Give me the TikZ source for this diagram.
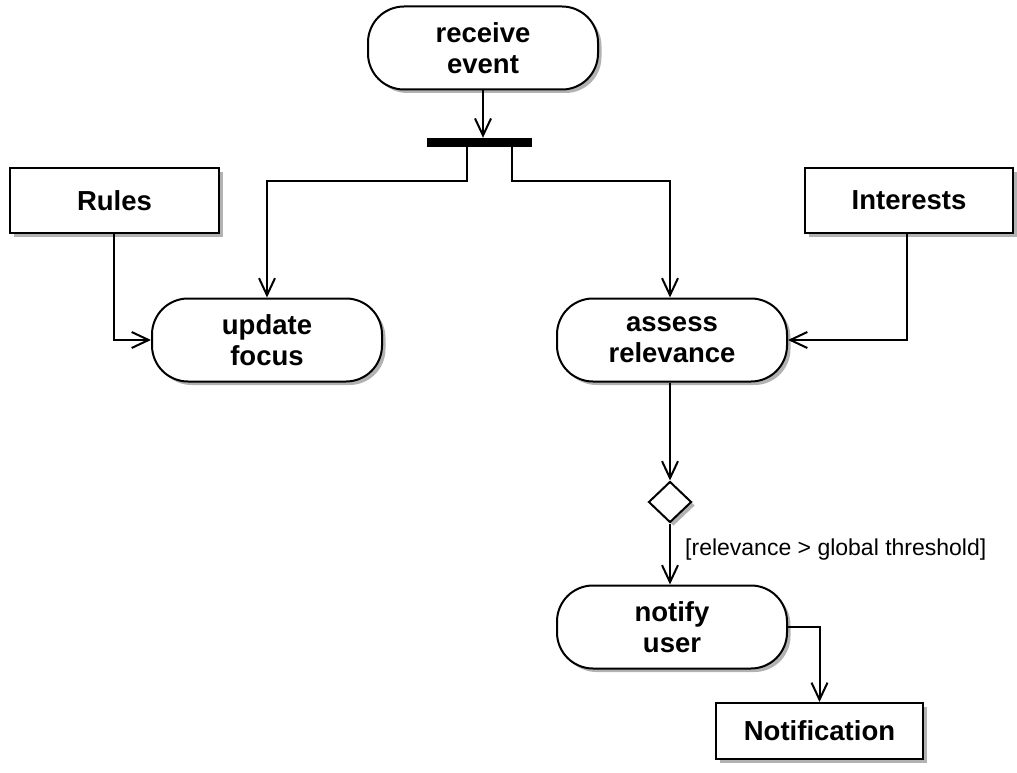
\documentclass[tikz,border=0pt]{standalone}
\usepackage{fontspec}
\setmainfont{Liberation Sans}
\usetikzlibrary{shapes.geometric,shadows,arrows.meta}

\tikzset{
  shade/.style={drop shadow={shadow xshift=3.5pt,shadow yshift=-3.5pt,opacity=0.3,fill=black}},
  action/.style={draw,line width=2pt,fill=white,rounded corners=36pt,
    minimum width=230pt,minimum height=83pt,align=center,inner sep=0pt,
    font=\fontsize{27.5}{31}\selectfont\bfseries,shade},
  objbox/.style={draw,line width=2pt,fill=white,align=center,inner sep=0pt,
    font=\fontsize{27.5}{31}\selectfont\bfseries,shade},
  decision/.style={draw,diamond,line width=2pt,fill=white,inner sep=0pt,
    minimum width=43pt,minimum height=41pt,shade},
  forkbar/.style={fill=black,inner sep=0pt,minimum width=105pt,minimum height=9pt},
  flow/.style={line width=2pt,-{Straight Barb[length=17pt,width=16pt,line width=2pt]}},
  guard/.style={font=\fontsize{23}{26}\selectfont,inner sep=0pt,anchor=west}
}

\begin{document}
\begin{tikzpicture}[x=1pt,y=-1pt]
  \useasboundingbox (0,0) rectangle (1017,773);

  % activities
  \node[action] (receive) at (483,48) {receive\\event};
  \node[action] (update) at (267,340) {update\\focus};
  \node[action] (assess) at (672,340) {assess\\relevance};
  \node[action] (notify) at (672,627) {notify\\user};

  % object nodes
  \node[objbox,minimum width=209pt,minimum height=65pt] (rules) at (114.5,200.5) {Rules};
  \node[objbox,minimum width=208pt,minimum height=65pt] (interests) at (909,200.5) {Interests};
  \node[objbox,minimum width=207pt,minimum height=56pt] (notification) at (819.5,731) {Notification};

  % fork bar and decision
  \node[forkbar] (fork) at (479.5,142.5) {};
  \node[decision] (choice) at (670,502) {};

  % control flow
  \draw[flow] (receive.south) -- (receive.south |- fork.north);
  \draw[flow] ([xshift=-12.5pt]fork.south) -- ++(0,34) -| (update.north);
  \draw[flow] ([xshift=32.5pt]fork.south) -- ++(0,34) -| ([xshift=-2pt]assess.north);
  \draw[flow] ([xshift=-2pt]assess.south) -- (choice.north);
  \draw[flow] (choice.south) -- ([xshift=-2pt]notify.north);
  \node[guard] (cond) at (685,550) {[relevance > global threshold]};

  % object flow
  \draw[flow] ([xshift=-0.5pt]rules.south) |- (update.west);
  \draw[flow] ([xshift=-2pt]interests.south) |- (assess.east);
  \draw[flow] (notify.east) -| (notification.north);
\end{tikzpicture}
\end{document}
